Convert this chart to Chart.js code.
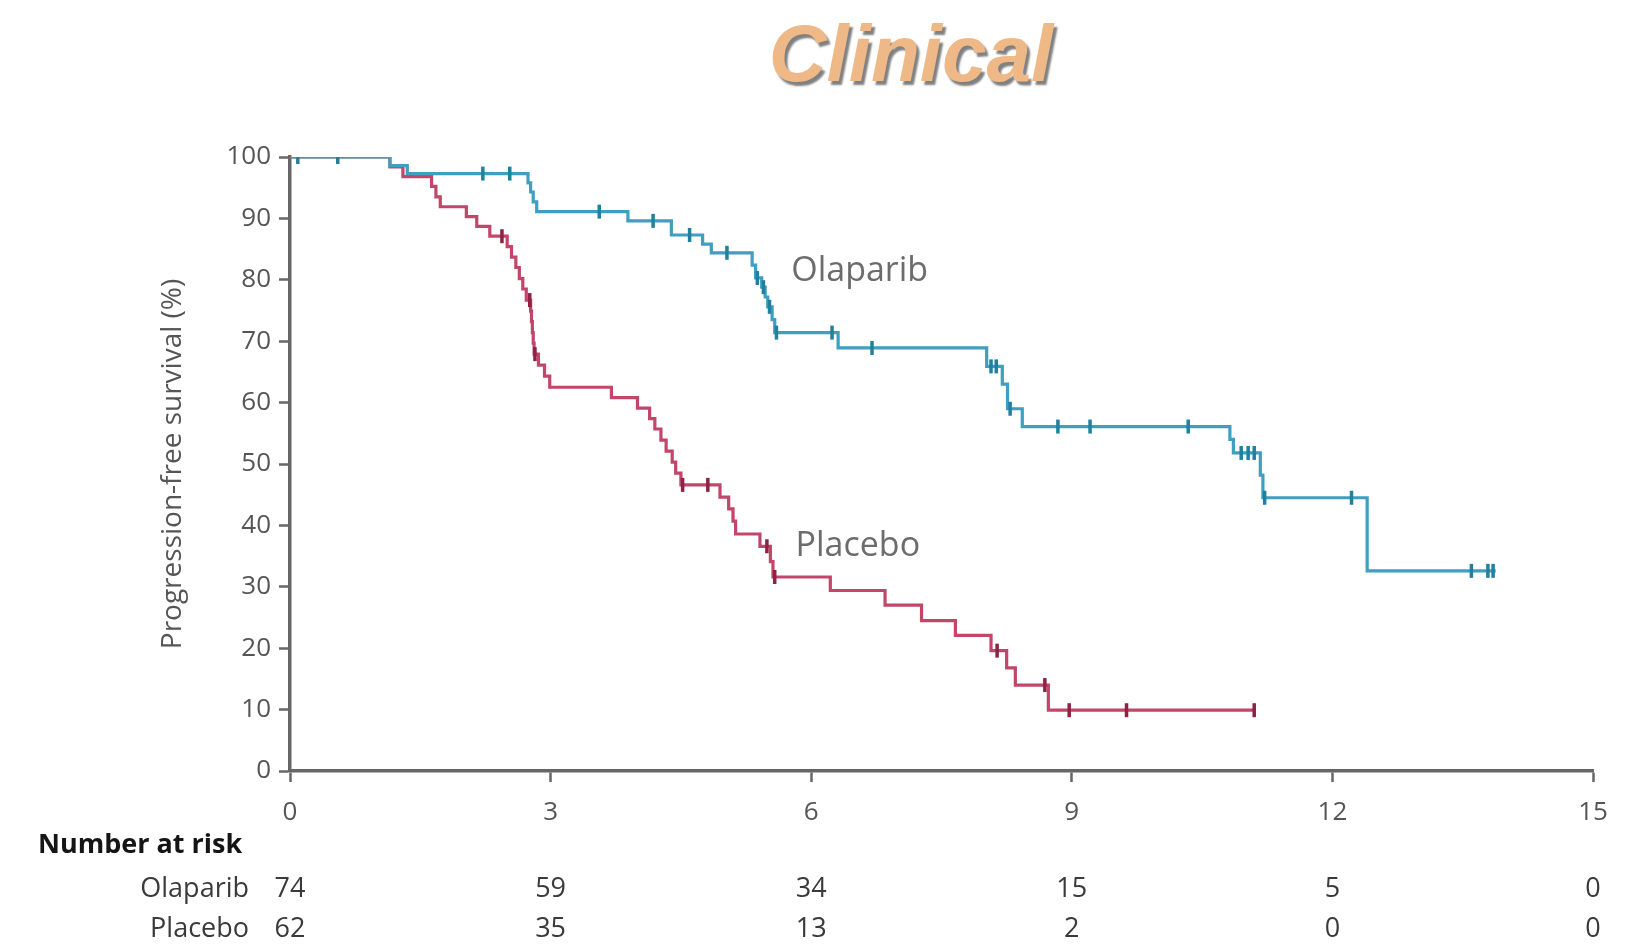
<!DOCTYPE html>
<html>
<head>
<meta charset="utf-8">
<title>Progression-free survival</title>
<script src="https://cdn.jsdelivr.net/npm/chart.js@4/dist/chart.umd.min.js"></script>
<style>
  html, body { margin: 0; padding: 0; background: #ffffff; }
  #wrap { width: 1641px; height: 948px; }
</style>
</head>
<body>
<div id="wrap"><canvas id="km" width="1641" height="948"></canvas></div>
<script>
// Kaplan-Meier progression-free survival, months vs percent

const riskTimes = [0, 3, 6, 9, 12, 15];
const olaparibAtRisk = [74, 59, 34, 15, 5, 0];
const placeboAtRisk = [62, 35, 13, 2, 0, 0];

// Olaparib arm: event times (months) and survival (%) after each event
const olaparibEventMonths = [1.15, 1.35, 2.74, 2.77, 2.8, 2.84, 3.89, 4.39, 4.75, 4.85,
  5.32, 5.36, 5.43, 5.47, 5.5, 5.55, 5.58, 6.31, 8.02, 8.2, 8.26, 8.43,
  10.82, 10.86, 11.17, 11.2, 12.4];
const olaparibSurvival = [98.6, 97.3, 95.8, 94.3, 92.7, 91.1, 89.6, 87.3, 85.8, 84.4,
  82.4, 80.3, 78.8, 77.2, 75.6, 73.5, 71.4, 68.9, 65.9, 63.0, 59.0, 56.1,
  54.0, 51.8, 48.2, 44.5, 32.6];
const olaparibCensorMonths = [0.09, 0.55, 2.22, 2.53, 3.56, 4.18, 4.6, 5.03, 5.38, 5.45,
  5.52, 5.6, 6.24, 6.7, 8.07, 8.13, 8.29, 8.84, 9.21, 10.34, 10.95, 11.03, 11.1,
  11.22, 12.22, 13.6, 13.79, 13.85];
const olaparibLastMonth = 13.88;

// Placebo arm
const placeboEventMonths = [1.15, 1.3, 1.63, 1.68, 1.73, 2.03, 2.15, 2.3, 2.5, 2.55,
  2.6, 2.64, 2.68, 2.72, 2.77, 2.78, 2.79, 2.8, 2.81, 2.86, 2.93, 2.99, 3.7, 4.0,
  4.14, 4.2, 4.27, 4.33, 4.4, 4.44, 4.5, 4.95, 5.05, 5.1, 5.13, 5.41, 5.53, 5.56,
  6.22, 6.85, 7.27, 7.66, 8.07, 8.25, 8.35, 8.73];
const placeboSurvival = [98.4, 96.8, 95.2, 93.5, 91.9, 90.3, 88.7, 87.1, 85.4, 83.7,
  82.0, 80.2, 78.5, 76.7, 74.9, 73.2, 71.4, 69.7, 67.9, 66.1, 64.3, 62.5, 60.8, 59.1,
  57.4, 55.7, 53.9, 52.1, 50.3, 48.5, 46.6, 44.6, 42.7, 40.7, 38.6, 36.6, 34.1, 31.6,
  29.4, 27.0, 24.5, 22.1, 19.6, 16.8, 14.0, 9.9];
const placeboCensorMonths = [2.44, 2.76, 2.82, 4.52, 4.81, 5.49, 5.58, 8.14, 8.69,
  8.97, 9.63, 11.1];
const placeboLastMonth = 11.1;

const xTicks = [0, 3, 6, 9, 12, 15];
const yTicks = [0, 10, 20, 30, 40, 50, 60, 70, 80, 90, 100];

const OLA_LINE = '#3f9fc0';
const OLA_MARK = '#22809f';
const PLA_LINE = '#c2466a';
const PLA_MARK = '#8e2242';
const AXIS = '#666666';
const TXT = '#555555';

function stepCurve(months, surv, last) {
  const pts = [{ x: 0, y: 100 }];
  months.forEach((m, i) => pts.push({ x: m, y: surv[i] }));
  pts.push({ x: last, y: surv[surv.length - 1] });
  return pts;
}
function survivalAt(months, surv, t) {
  let s = 100;
  for (let i = 0; i < months.length; i++) {
    if (months[i] <= t) s = surv[i];
  }
  return s;
}
function censorPoints(censors, months, surv) {
  return censors.map(t => ({ x: t, y: survivalAt(months, surv, t) }));
}

const annotations = {
  id: 'kmText',
  afterDraw(chart) {
    const { ctx, scales: { x, y } } = chart;
    ctx.save();

    // heading
    ctx.font = 'italic bold 80px "Liberation Sans", Arial, sans-serif';
    ctx.textAlign = 'center';
    ctx.textBaseline = 'alphabetic';
    ctx.shadowColor = 'rgba(85,85,85,0.75)';
    ctx.shadowOffsetX = 3;
    ctx.shadowOffsetY = 4;
    ctx.shadowBlur = 2;
    ctx.fillStyle = '#efb987';
    ctx.fillText('Clinical', 911, 81);
    ctx.shadowColor = 'transparent';
    ctx.shadowBlur = 0;
    ctx.shadowOffsetX = 0;
    ctx.shadowOffsetY = 0;

    // curve names
    ctx.font = '34px "Open Sans", sans-serif';
    ctx.fillStyle = '#6c6c6c';
    ctx.textAlign = 'left';
    ctx.textBaseline = 'middle';
    ctx.fillText('Olaparib', x.getPixelForValue(5.77), y.getPixelForValue(81.4));
    ctx.fillText('Placebo', x.getPixelForValue(5.82), y.getPixelForValue(36.6));

    // number at risk table
    ctx.fillStyle = '#151515';
    ctx.font = 'bold 27px "Open Sans", sans-serif';
    ctx.textAlign = 'left';
    ctx.fillText('Number at risk', 38, 845);

    ctx.font = '27px "Open Sans", sans-serif';
    ctx.fillStyle = '#3a3a3a';
    ctx.textAlign = 'right';
    ctx.fillText('Olaparib', 249, 889);
    ctx.fillText('Placebo', 249, 929);

    ctx.textAlign = 'center';
    riskTimes.forEach((t, i) => {
      const px = x.getPixelForValue(t);
      ctx.fillText(String(olaparibAtRisk[i]), px, 889);
      ctx.fillText(String(placeboAtRisk[i]), px, 929);
    });
    ctx.restore();
  }
};

new Chart(document.getElementById('km'), {
  type: 'line',
  data: {
    datasets: [
      {
        label: 'Olaparib censored',
        type: 'scatter',
        data: censorPoints(olaparibCensorMonths, olaparibEventMonths, olaparibSurvival),
        pointStyle: 'line',
        rotation: 90,
        pointRadius: 7,
        borderWidth: 3.5,
        borderColor: OLA_MARK,
        backgroundColor: OLA_MARK
      },
      {
        label: 'Olaparib',
        data: stepCurve(olaparibEventMonths, olaparibSurvival, olaparibLastMonth),
        stepped: 'before',
        borderColor: OLA_LINE,
        borderWidth: 3.2,
        pointRadius: 0,
        fill: false
      },
      {
        label: 'Placebo censored',
        type: 'scatter',
        data: censorPoints(placeboCensorMonths, placeboEventMonths, placeboSurvival),
        pointStyle: 'line',
        rotation: 90,
        pointRadius: 7,
        borderWidth: 3.5,
        borderColor: PLA_MARK,
        backgroundColor: PLA_MARK
      },
      {
        label: 'Placebo',
        data: stepCurve(placeboEventMonths, placeboSurvival, placeboLastMonth),
        stepped: 'before',
        borderColor: PLA_LINE,
        borderWidth: 3.2,
        pointRadius: 0,
        fill: false
      }
    ]
  },
  options: {
    responsive: false,
    animation: false,
    layout: { padding: { left: 0, top: 157, right: 48, bottom: 117 } },
    plugins: {
      legend: { display: false },
      tooltip: { enabled: false },
      title: { display: false }
    },
    scales: {
      x: {
        type: 'linear',
        min: 0,
        max: 15,
        afterBuildTicks(scale) { scale.ticks = xTicks.map(v => ({ value: v })); },
        afterFit(scale) { scale.height = 60; },
        ticks: {
          color: TXT,
          font: { family: '"Open Sans", sans-serif', size: 26 },
          padding: 15,
          maxRotation: 0
        },
        grid: {
          drawOnChartArea: false,
          drawTicks: true,
          tickLength: 11,
          tickColor: AXIS,
          tickWidth: 2.5
        },
        border: { color: AXIS, width: 3.5 }
      },
      y: {
        type: 'linear',
        min: 0,
        max: 100,
        afterBuildTicks(scale) { scale.ticks = yTicks.map(v => ({ value: v })); },
        afterFit(scale) { scale.width = 290; },
        ticks: {
          color: TXT,
          font: { family: '"Open Sans", sans-serif', size: 26 },
          padding: 8
        },
        grid: {
          drawOnChartArea: false,
          drawTicks: true,
          tickLength: 11,
          tickColor: AXIS,
          tickWidth: 2.5
        },
        border: { color: AXIS, width: 3.5 },
        title: {
          display: true,
          text: 'Progression-free survival (%)',
          color: TXT,
          font: { family: '"Open Sans", sans-serif', size: 28 },
          padding: { top: 156, bottom: 0 }
        }
      }
    }
  },
  plugins: [annotations]
});
</script>
</body>
</html>
